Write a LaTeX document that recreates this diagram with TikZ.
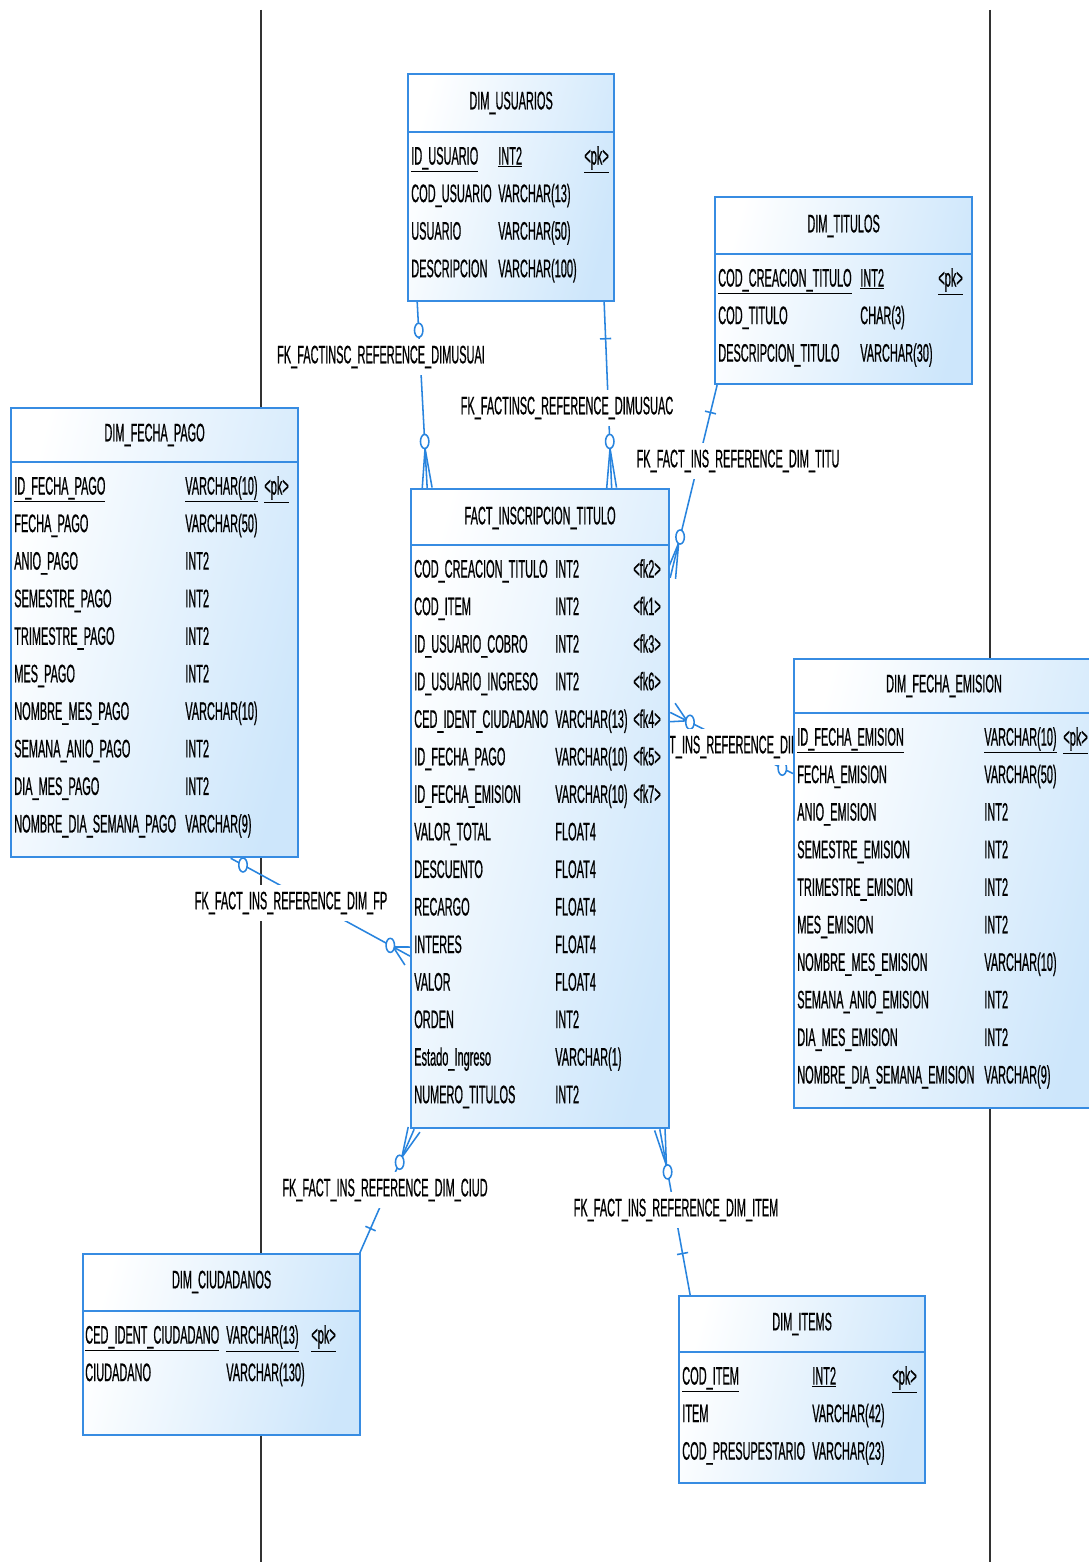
\documentclass[tikz,border=0pt]{standalone}
\usepackage{fontspec}
\usepackage{tikz}
\usetikzlibrary{calc,decorations.markings}
\newfontfamily\erfont[FakeStretch=0.433,FakeBold=0.6]{Liberation Sans}
\definecolor{tblblue}{RGB}{55,140,226}
\definecolor{tblfill}{RGB}{205,230,251}
\definecolor{fkblue}{RGB}{40,132,222}
\definecolor{pagegray}{RGB}{50,50,50}
\pgfdeclarelayer{back}
\pgfsetlayers{back,main}
\tikzset{
    tbl/.style={
           rectangle,
           draw=tblblue, line width=1.5pt,
           left color=white, right color=tblfill, shading angle=75,
           anchor=north west,
           inner sep=0pt
           },
    tblsep/.style={draw=tblblue, line width=1.5pt},
    tbltitle/.style={inner sep=0pt, font=\erfont\fontsize{18}{26.7}\selectfont},
    fields/.style={anchor=north west, inner sep=0pt, font=\erfont\fontsize{18}{26.7}\selectfont},
    fklabel/.style={fill=white, inner xsep=2pt, inner ysep=5pt, font=\erfont\fontsize{18}{26.7}\selectfont},
    fk/.style={draw=fkblue, line width=1.1pt},
    one/.style={postaction={decorate,decoration={markings,
        mark=at position #1 with {\draw[fk] (0,-4pt) -- (0,4pt);}}}},
    zero/.style={postaction={decorate,decoration={markings,
        mark=at position #1 with {\pgftransformresetnontranslations
                                  \draw[fk,fill=white] (0,0) ellipse (3pt and 5pt);}}}},
    many/.style={postaction={decorate,decoration={markings,
        mark=at position 0.999 with {\draw[fk] (-28pt*#1,0) -- (0,3.5pt/#1) (-28pt*#1,0) -- (0,-3.5pt/#1);
                                     \pgftransformshift{\pgfpoint{-33pt*#1}{0pt}}\pgftransformresetnontranslations
                                     \draw[fk,fill=white] (0,0) ellipse (3pt and 5pt);}}}},
}

\begin{document}
\begin{tikzpicture}[x=0.025cm,y=-0.025cm]
\useasboundingbox (0,0) rectangle (1088,1562);

% Table: DIM_USUARIOS
\node[tbl, minimum width=5.15cm, minimum height=5.675cm] (usuarios) at (407,73) {};
\draw[tblsep] ($(usuarios.north west)+(0,59)$) -- ($(usuarios.north east)+(0,59)$);
\node[tbltitle] (usuariostitle) at ($(usuarios.north)+(0,30)$) {DIM\_USUARIOS};
\node[fields] (usuariosfields) at (411,138) {%
    \begin{tabular}{@{}p{2.175cm}@{}p{2.15cm}@{}l@{}}
        \underline{ID\_USUARIO} & \underline{INT2} & \underline{<pk>}\\
        COD\_USUARIO & VARCHAR(13) & \\
        USUARIO & VARCHAR(50) & \\
        DESCRIPCION & VARCHAR(100) &
    \end{tabular}
};

% Table: DIM_TITULOS
\node[tbl, minimum width=6.425cm, minimum height=4.675cm] (titulos) at (714,196) {};
\draw[tblsep] ($(titulos.north west)+(0,58)$) -- ($(titulos.north east)+(0,58)$);
\node[tbltitle] (titulostitle) at ($(titulos.north)+(0,30)$) {DIM\_TITULOS};
\node[fields] (titulosfields) at (718,260) {%
    \begin{tabular}{@{}p{3.55cm}@{}p{1.95cm}@{}l@{}}
        \underline{COD\_CREACION\_TITULO} & \underline{INT2} & \underline{<pk>}\\
        COD\_TITULO & CHAR(3) & \\
        DESCRIPCION\_TITULO & VARCHAR(30) &
    \end{tabular}
};

% Table: DIM_FECHA_PAGO
\node[tbl, minimum width=7.175cm, minimum height=11.225cm] (pago) at (10,407) {};
\draw[tblsep] ($(pago.north west)+(0,55)$) -- ($(pago.north east)+(0,55)$);
\node[tbltitle] (pagotitle) at ($(pago.north)+(0,28)$) {DIM\_FECHA\_PAGO};
\node[fields] (pagofields) at (14,468) {%
    \begin{tabular}{@{}p{4.275cm}@{}p{1.975cm}@{}l@{}}
        \underline{ID\_FECHA\_PAGO} & \underline{VARCHAR(10)} & \underline{<pk>}\\
        FECHA\_PAGO & VARCHAR(50) & \\
        ANIO\_PAGO & INT2 & \\
        SEMESTRE\_PAGO & INT2 & \\
        TRIMESTRE\_PAGO & INT2 & \\
        MES\_PAGO & INT2 & \\
        NOMBRE\_MES\_PAGO & VARCHAR(10) & \\
        SEMANA\_ANIO\_PAGO & INT2 & \\
        DIA\_MES\_PAGO & INT2 & \\
        NOMBRE\_DIA\_SEMANA\_PAGO & VARCHAR(9) &
    \end{tabular}
};

% Table: FACT_INSCRIPCION_TITULO
\node[tbl, minimum width=6.45cm, minimum height=15.975cm] (fact) at (410,488) {};
\draw[tblsep] ($(fact.north west)+(0,57)$) -- ($(fact.north east)+(0,57)$);
\node[tbltitle] (facttitle) at ($(fact.north)+(0,30)$) {FACT\_INSCRIPCION\_TITULO};
\node[fields] (factfields) at (414,551) {%
    \begin{tabular}{@{}p{3.525cm}@{}p{1.95cm}@{}l@{}}
        COD\_CREACION\_TITULO & INT2 & <fk2>\\
        COD\_ITEM & INT2 & <fk1>\\
        ID\_USUARIO\_COBRO & INT2 & <fk3>\\
        ID\_USUARIO\_INGRESO & INT2 & <fk6>\\
        CED\_IDENT\_CIUDADANO & VARCHAR(13) & <fk4>\\
        ID\_FECHA\_PAGO & VARCHAR(10) & <fk5>\\
        ID\_FECHA\_EMISION & VARCHAR(10) & <fk7>\\
        VALOR\_TOTAL & FLOAT4 & \\
        DESCUENTO & FLOAT4 & \\
        RECARGO & FLOAT4 & \\
        INTERES & FLOAT4 & \\
        VALOR & FLOAT4 & \\
        ORDEN & INT2 & \\
        Estado\_Ingreso & VARCHAR(1) & \\
        NUMERO\_TITULOS & INT2 &
    \end{tabular}
};

% Table: DIM_FECHA_EMISION
\node[tbl, minimum width=7.5cm, minimum height=11.225cm] (emision) at (793,658) {};
\draw[tblsep] ($(emision.north west)+(0,55)$) -- ($(emision.north east)+(0,55)$);
\node[tbltitle] (emisiontitle) at ($(emision.north west)+(151,28)$) {DIM\_FECHA\_EMISION};
\node[fields] (emisionfields) at (797,719) {%
    \begin{tabular}{@{}p{4.675cm}@{}p{1.975cm}@{}l@{}}
        \underline{ID\_FECHA\_EMISION} & \underline{VARCHAR(10)} & \underline{<pk>}\\
        FECHA\_EMISION & VARCHAR(50) & \\
        ANIO\_EMISION & INT2 & \\
        SEMESTRE\_EMISION & INT2 & \\
        TRIMESTRE\_EMISION & INT2 & \\
        MES\_EMISION & INT2 & \\
        NOMBRE\_MES\_EMISION & VARCHAR(10) & \\
        SEMANA\_ANIO\_EMISION & INT2 & \\
        DIA\_MES\_EMISION & INT2 & \\
        NOMBRE\_DIA\_SEMANA\_EMISION & VARCHAR(9) &
    \end{tabular}
};

% Table: DIM_CIUDADANOS
\node[tbl, minimum width=6.925cm, minimum height=4.525cm] (ciud) at (82,1253) {};
\draw[tblsep] ($(ciud.north west)+(0,58)$) -- ($(ciud.north east)+(0,58)$);
\node[tbltitle] (ciudtitle) at ($(ciud.north)+(0,29)$) {DIM\_CIUDADANOS};
\node[fields] (ciudfields) at (85,1317) {%
    \begin{tabular}{@{}p{3.525cm}@{}p{2.125cm}@{}l@{}}
        \underline{CED\_IDENT\_CIUDADANO} & \underline{VARCHAR(13)} & \underline{<pk>}\\
        CIUDADANO & VARCHAR(130) &
    \end{tabular}
};

% Table: DIM_ITEMS
\node[tbl, minimum width=6.15cm, minimum height=4.675cm] (items) at (678,1295) {};
\draw[tblsep] ($(items.north west)+(0,57)$) -- ($(items.north east)+(0,57)$);
\node[tbltitle] (itemstitle) at ($(items.north)+(0,29)$) {DIM\_ITEMS};
\node[fields] (itemsfields) at (682,1358) {%
    \begin{tabular}{@{}p{3.25cm}@{}p{2cm}@{}l@{}}
        \underline{COD\_ITEM} & \underline{INT2} & \underline{<pk>}\\
        ITEM & VARCHAR(42) & \\
        COD\_PRESUPESTARIO & VARCHAR(23) &
    \end{tabular}
};

\begin{pgfonlayer}{back}
\fill[white] (0,0) rectangle (1088,1562);
% page breaks
\draw[pagegray, line width=0.8pt] (261,10) -- (261,1562) (990,10) -- (990,1562);

% ends of the references
\coordinate (ui1) at ($(usuarios.south west)!0.049!(usuarios.south east)$);
\coordinate (ui2) at ($(fact.north west)!0.066!(fact.north east)$);
\coordinate (uc1) at ($(usuarios.south west)!0.947!(usuarios.south east)$);
\coordinate (uc2) at ($(fact.north west)!0.775!(fact.north east)$);
\coordinate (ti1) at ($(titulos.south west)!0.012!(titulos.south east)$);
\coordinate (ti2) at ($(fact.north east)!0.14!(fact.south east)$);
\coordinate (fe1) at ($(emision.north west)!0.256!(emision.south west)$);
\coordinate (fe2) at ($(fact.north east)!0.35!(fact.south east)$);
\coordinate (fp1) at ($(pago.south west)!0.763!(pago.south east)$);
\coordinate (fp2) at ($(fact.north west)!0.73!(fact.south west)$);
\coordinate (ci1) at ($(ciud.north west)!0.995!(ciud.north east)$);
\coordinate (ci2) at ($(fact.south west)!0.016!(fact.south east)$);
\coordinate (it1) at ($(items.north west)!0.049!(items.north east)$);
\coordinate (it2) at ($(fact.south west)!0.96!(fact.south east)$);

\path[fk, zero=20pt, many=1] (ui1) -- (ui2);
\path[fk, one=26pt, many=1] (uc1) -- (uc2);
\path[fk, one=20pt, many=0.9] (ti1) -- (ti2);
\path[fk, zero=8.5pt, many=0.47] (fe1) -- (fe2);
\path[fk, zero=10pt, many=0.48] (fp1) -- (fp2);
\path[fk, one=19pt, many=0.77] (ci1) -- (ci2);
\path[fk, one=30pt, many=0.93] (it1) -- (it2);

% reference names
\node[fklabel] (lbusuai) at (381,357) {FK\_FACTINSC\_REFERENCE\_DIMUSUAI};
\node[fklabel] (lbusuac) at (567,408) {FK\_FACTINSC\_REFERENCE\_DIMUSUAC};
\node[fklabel] (lbtitu) at (738,461) {FK\_FACT\_INS\_REFERENCE\_DIM\_TITU};
\node[fklabel] (lbfe) at (724,747) {FK\_FACT\_INS\_REFERENCE\_DIM\_FE};
\node[fklabel] (lbfp) at (291,903) {FK\_FACT\_INS\_REFERENCE\_DIM\_FP};
\node[fklabel] (lbciud) at (385,1190) {FK\_FACT\_INS\_REFERENCE\_DIM\_CIUD};
\node[fklabel] (lbitem) at (676,1210) {FK\_FACT\_INS\_REFERENCE\_DIM\_ITEM};
\end{pgfonlayer}

\end{tikzpicture}
\end{document}
